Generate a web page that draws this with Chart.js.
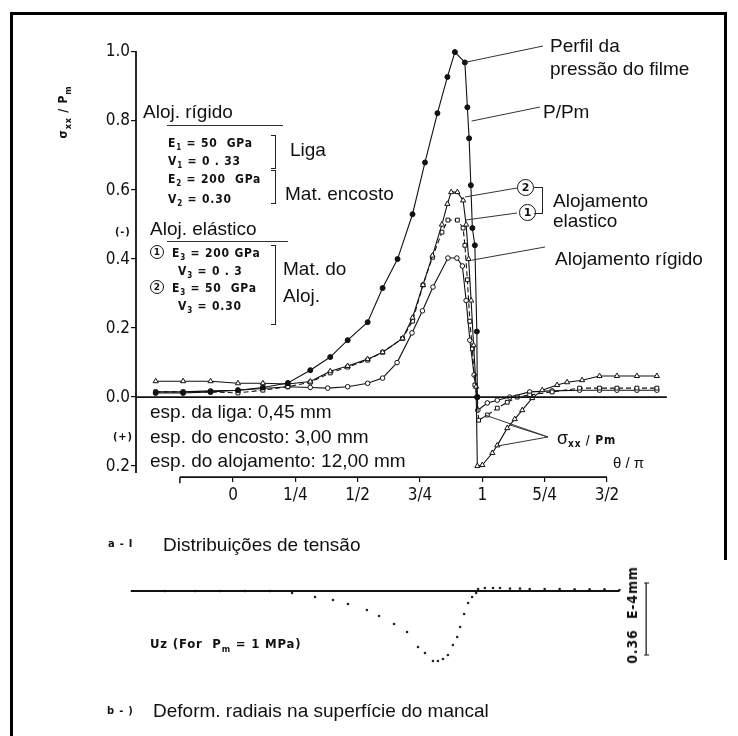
<!DOCTYPE html>
<html>
<head>
<meta charset="utf-8">
<script src="https://cdn.jsdelivr.net/npm/chart.js@4.4.1/dist/chart.umd.min.js"></script>
<style>
  body { margin: 0; background: #fff; }
  #wrap { position: relative; width: 738px; height: 736px; overflow: hidden; background: #fff;
          font-family: "Liberation Sans", Arial, sans-serif; color: #111; }
  #c { position: absolute; left: 0; top: 0; }
  .t { position: absolute; white-space: nowrap; line-height: 1; }
  .s { font-family: "DejaVu Sans Condensed", "DejaVu Sans", sans-serif; font-weight: bold; letter-spacing: 0.8px; }
  .br { position: absolute; border: 1px solid #222; border-left: none; }
  .rule { position: absolute; height: 0; border-top: 1px solid #333; }
  .circ { position: absolute; border: 1px solid #111; border-radius: 50%; text-align: center;
          font-family: "DejaVu Sans", sans-serif; font-weight: bold; background: #fff; }
  .rot { position: absolute; white-space: nowrap; line-height: 1; transform: translate(-50%, -50%) rotate(-90deg); }
  #frame { position: absolute; left: 10px; top: 12px; width: 714px; height: 760px;
           border-left: 3px solid #000; border-top: 3px solid #000; }
  #frameR { position: absolute; left: 724px; top: 12px; width: 3px; height: 548px; background: #000; }
</style>
</head>
<body>
<div id="wrap">
  <div id="frame"></div>
  <div id="frameR"></div>
  <canvas id="c" width="738" height="736"></canvas>
</div>
<script>
// theta / pi positions and sigma_xx / Pm values
const thetaP   = [-0.31, -0.2, -0.09, 0.02, 0.12, 0.22, 0.31, 0.39, 0.46, 0.54, 0.60, 0.66, 0.72, 0.77, 0.82, 0.86, 0.89, 0.93, 0.94, 0.947, 0.954, 0.96, 0.97, 0.978, 0.98];
const pressure = [0.012, 0.012, 0.015, 0.02, 0.028, 0.041, 0.078, 0.116, 0.165, 0.217, 0.316, 0.40, 0.53, 0.68, 0.823, 0.928, 1.0, 0.97, 0.84, 0.75, 0.614, 0.49, 0.44, 0.19, 0.0];

// housing 1 (E3 = 200 GPa), squares
const theta1 = [-0.31, -0.2, -0.09, 0.02, 0.12, 0.22, 0.31, 0.39, 0.46, 0.54, 0.60, 0.68, 0.72, 0.762, 0.80, 0.838, 0.862, 0.90, 0.923, 0.93, 0.94, 0.95, 0.96, 0.97, 0.98, 0.985, 1.02, 1.06, 1.10, 1.14, 1.19, 1.28, 1.39, 1.47, 1.54, 1.62, 1.70];
const sigma1 = [0.015, 0.015, 0.015, 0.012, 0.02, 0.03, 0.043, 0.07, 0.087, 0.107, 0.13, 0.17, 0.22, 0.325, 0.405, 0.478, 0.513, 0.513, 0.49, 0.44, 0.34, 0.22, 0.14, 0.035, 0.0, -0.067, -0.052, -0.032, -0.015, 0.0, 0.006, 0.015, 0.026, 0.026, 0.026, 0.026, 0.026];

// housing 2 (E3 = 50 GPa), triangles
const theta2 = [-0.31, -0.2, -0.09, 0.02, 0.12, 0.22, 0.31, 0.39, 0.46, 0.54, 0.60, 0.68, 0.72, 0.762, 0.80, 0.838, 0.86, 0.875, 0.90, 0.923, 0.935, 0.945, 0.955, 0.965, 0.975, 0.98, 1.0, 1.04, 1.06, 1.10, 1.13, 1.16, 1.20, 1.24, 1.30, 1.34, 1.40, 1.47, 1.54, 1.62, 1.70];
const sigma2 = [0.046, 0.046, 0.046, 0.04, 0.04, 0.038, 0.045, 0.075, 0.09, 0.11, 0.13, 0.17, 0.23, 0.325, 0.41, 0.50, 0.56, 0.594, 0.594, 0.57, 0.50, 0.40, 0.28, 0.15, 0.03, -0.2, -0.197, -0.162, -0.14, -0.09, -0.064, -0.038, -0.003, 0.02, 0.035, 0.043, 0.049, 0.061, 0.061, 0.061, 0.061];

// rigid housing, small circles
const thetaR = [-0.31, -0.2, -0.09, 0.02, 0.12, 0.22, 0.31, 0.38, 0.46, 0.54, 0.60, 0.658, 0.718, 0.76, 0.802, 0.862, 0.898, 0.92, 0.935, 0.95, 0.967, 0.978, 0.982, 1.02, 1.06, 1.11, 1.19, 1.28, 1.39, 1.47, 1.54, 1.62, 1.70];
const sigmaR = [0.015, 0.015, 0.018, 0.02, 0.025, 0.03, 0.028, 0.026, 0.03, 0.04, 0.055, 0.10, 0.186, 0.25, 0.319, 0.403, 0.403, 0.38, 0.28, 0.165, 0.064, 0.0, -0.038, -0.017, -0.009, 0.0, 0.015, 0.018, 0.02, 0.02, 0.02, 0.02, 0.02];

// radial deformation Uz, units of 1E-4 mm
const thetaU = [-0.273, -0.152, -0.052, 0.048, 0.148, 0.237, 0.329, 0.401, 0.461, 0.537, 0.586, 0.646, 0.698, 0.742, 0.770, 0.802, 0.822, 0.842, 0.862, 0.882, 0.899, 0.911, 0.927, 0.943, 0.959, 0.975, 0.983, 1.01, 1.043, 1.071, 1.111, 1.151, 1.19, 1.25, 1.31, 1.37, 1.43, 1.49, 1.55];
const uz     = [0, 0, 0, 0, 0, -0.01, -0.03, -0.045, -0.065, -0.095, -0.125, -0.165, -0.205, -0.28, -0.31, -0.35, -0.35, -0.34, -0.32, -0.27, -0.23, -0.18, -0.115, -0.06, -0.03, -0.01, 0.01, 0.015, 0.015, 0.015, 0.012, 0.012, 0.01, 0.01, 0.01, 0.008, 0.008, 0.008, 0.005];

const thetaTicks  = [0, 0.25, 0.5, 0.75, 1, 1.25, 1.5];
const thetaLabels = ['0', '1/4', '1/2', '3/4', '1', '5/4', '3/2'];
const stressTicks  = [-0.2, 0, 0.2, 0.4, 0.6, 0.8, 1.0];
const stressLabels = ['0.2', '0.0', '0.2', '0.4', '0.6', '0.8', '1.0'];

const thetaAxisAt = -0.232;   // where the theta/pi axis sits on the stress scale
const thetaAxisStart = -0.213;
const zeroLineEnd = 1.74;
const uzLineStart = -0.41, uzLineEnd = 1.55;
const uzBarAt = 1.657, uzBar = 0.36;

const pts = (xs, ys) => xs.map((x, i) => ({ x, y: ys[i] }));

const tickFont = { family: '"Liberation Sans Narrow", "DejaVu Sans Condensed", sans-serif', size: 17 };

const axesPlugin = {
  id: 'axes',
  afterDatasetsDraw(chart) {
    const { ctx, scales } = chart;
    const X = v => scales.x.getPixelForValue(v);
    const Y = v => scales.y.getPixelForValue(v);
    const U = v => scales.yu.getPixelForValue(v);
    const seg = (x1, y1, x2, y2, w) => {
      ctx.lineWidth = w; ctx.beginPath(); ctx.moveTo(x1, y1); ctx.lineTo(x2, y2); ctx.stroke();
    };
    ctx.save();
    ctx.strokeStyle = '#111';
    const left = scales.x.left;
    seg(left, Y(1.0) - 1, left, Y(-0.22), 1.8);
    seg(left, Y(0), X(zeroLineEnd), Y(0), 1.6);
    seg(X(thetaAxisStart), Y(thetaAxisAt), X(1.5), Y(thetaAxisAt), 1.8);
    seg(X(thetaAxisStart), Y(thetaAxisAt), X(thetaAxisStart), Y(thetaAxisAt) + 6, 1.5);
    seg(X(uzLineStart), U(0), X(uzLineEnd), U(0), 2);
    // scale bar of the deformation plot
    const top = U(0.04), bot = U(0.04 - uzBar);
    seg(X(uzBarAt), top, X(uzBarAt), bot, 1.2);
    seg(X(uzBarAt) - 2, top, X(uzBarAt) + 3, top, 1);
    seg(X(uzBarAt) - 2, bot, X(uzBarAt) + 3, bot, 1);

    // leader lines from labels to the curves
    ctx.strokeStyle = '#333';
    const leaders = [
      [543, 46, 0.93, 0.97], [540, 107, 0.957, 0.80], [517, 188, 0.931, 0.58],
      [517, 213, 0.931, 0.513], [545, 247, 0.959, 0.397],
      [548, 437, 1.011, -0.052], [548, 437, 1.111, -0.081], [548, 437, 1.059, -0.142]
    ];
    leaders.forEach(([px, py, tx, ty]) => seg(px, py, X(tx), Y(ty), 1));
    ctx.restore();
  }
};

const line = (label, xs, ys, extra) => Object.assign({
  label, data: pts(xs, ys), borderColor: '#111', borderWidth: 1.1,
  pointBorderColor: '#111', pointBackgroundColor: '#fff', pointBorderWidth: 1,
  pointRadius: 2.6, yAxisID: 'y', tension: 0
}, extra);

new Chart(document.getElementById('c'), {
  type: 'line',
  data: {
    datasets: [
      line('P/Pm', thetaP, pressure, { pointStyle: 'circle', pointRadius: 2.5, pointBackgroundColor: '#111' }),
      line('Alojamento elástico 2', theta2, sigma2, { pointStyle: 'triangle', pointRadius: 3 }),
      line('Alojamento elástico 1', theta1, sigma1, { pointStyle: 'rect', pointRadius: 2.7, borderDash: [5, 3] }),
      line('Alojamento rígido', thetaR, sigmaR, { pointStyle: 'circle', pointRadius: 2.3 }),
      { label: 'Uz', data: pts(thetaU, uz), showLine: false, yAxisID: 'yu',
        pointRadius: 1.3, pointBackgroundColor: '#222', pointBorderWidth: 0 }
    ]
  },
  options: {
    responsive: false,
    animation: false,
    layout: { padding: { left: 76, right: 38, top: 40, bottom: 46 } },
    plugins: { legend: { display: false }, tooltip: { enabled: false } },
    scales: {
      x: {
        type: 'linear', min: -0.389, max: 1.873,
        position: { y: thetaAxisAt },
        afterBuildTicks: s => { s.ticks = thetaTicks.map(value => ({ value })); },
        ticks: { callback: (v, i) => thetaLabels[i], color: '#111', font: tickFont, padding: 3, maxRotation: 0 },
        grid: { drawOnChartArea: false, drawTicks: true, tickLength: 5, color: '#111', lineWidth: 1.2 },
        border: { display: false }
      },
      y: {
        type: 'linear', min: -0.849, max: 1.035,
        afterFit: s => { s.width = 60; },
        afterBuildTicks: s => { s.ticks = stressTicks.map(value => ({ value })); },
        ticks: { callback: (v, i) => stressLabels[i], color: '#111', font: tickFont, padding: 1 },
        grid: { drawOnChartArea: false, drawTicks: true, tickLength: 5, color: '#111', lineWidth: 1.2 },
        border: { display: false }
      },
      yu: { type: 'linear', min: -0.495, max: 2.755, display: false }
    }
  },
  plugins: [axesPlugin]
});

// annotation texts
const wrap = document.getElementById('wrap');
function label(html, left, baseline, size, cls) {
  const d = document.createElement('div');
  d.className = 't' + (cls ? ' ' + cls : '');
  d.style.left = left + 'px';
  d.style.top = (baseline - 0.846 * size) + 'px';
  d.style.fontSize = size + 'px';
  d.innerHTML = html;
  wrap.appendChild(d);
}
function box(cls, left, top, w, h, html, size) {
  const d = document.createElement('div');
  d.className = cls;
  d.style.left = left + 'px'; d.style.top = top + 'px';
  if (w != null) d.style.width = w + 'px';
  if (h != null) d.style.height = h + 'px';
  if (html) { d.innerHTML = html; d.style.fontSize = size + 'px'; d.style.lineHeight = h + 'px'; }
  wrap.appendChild(d);
}
function rot(html, cx, cy, size, cls) {
  const d = document.createElement('div');
  d.className = 'rot' + (cls ? ' ' + cls : '');
  d.style.left = cx + 'px'; d.style.top = cy + 'px'; d.style.fontSize = size + 'px';
  d.innerHTML = html;
  wrap.appendChild(d);
}

rot('σ<sub style="font-size:9px">xx</sub> / P<sub style="font-size:9px">m</sub>', 65, 112, 12, 's');

label('Aloj. rígido', 143, 118, 19);
box('rule', 167, 125, 116, null);
label('E<sub style="font-size:8px">1</sub> = 50&nbsp;&nbsp;GPa', 168, 147, 12, 's');
label('V<sub style="font-size:8px">1</sub> = 0 . 33', 168, 165, 12, 's');
label('E<sub style="font-size:8px">2</sub> = 200&nbsp;&nbsp;GPa', 168, 183, 12, 's');
label('V<sub style="font-size:8px">2</sub> = 0.30', 168, 203, 12, 's');
box('br', 271, 135, 4, 32);
box('br', 271, 170, 4, 32);
label('Liga', 290, 156, 19);
label('Mat. encosto', 285, 200, 19);

label('(-)', 115, 235, 11, 's');
label('Aloj. elástico', 150, 235, 19);
box('rule', 167, 241, 121, null);
box('circ', 150, 245, 12, 12, '1', 9);
label('E<sub style="font-size:8px">3</sub> = 200 GPa', 172, 257, 12, 's');
label('V<sub style="font-size:8px">3</sub> = 0 . 3', 178, 275, 12, 's');
box('circ', 150, 280, 12, 12, '2', 9);
label('E<sub style="font-size:8px">3</sub> = 50&nbsp;&nbsp;GPa', 172, 292, 12, 's');
label('V<sub style="font-size:8px">3</sub> = 0.30', 178, 310, 12, 's');
box('br', 271, 245, 4, 78);
label('Mat. do', 283, 275, 19);
label('Aloj.', 283, 302, 19);

label('esp. da liga: 0,45 mm', 150, 418, 19);
label('esp. do encosto: 3,00 mm', 150, 443, 19);
label('esp. do alojamento: 12,00 mm', 150, 467, 19);
label('(+)', 113, 440, 11, 's');

label('Perfil da', 550, 52, 19);
label('pressão do filme', 550, 75, 19);
label('P/Pm', 543, 118, 19);
box('circ', 517, 179, 15, 15, '2', 11);
box('circ', 519, 204, 15, 15, '1', 11);
box('br', 534, 187, 8, 25);
label('Alojamento', 553, 207, 19);
label('elastico', 553, 227, 19);
label('Alojamento rígido', 555, 265, 19);

label('σ<span class="s" style="font-size:12px"><sub>xx</sub> / Pm</span>', 557, 444, 18);
label('θ / π', 613, 468, 15);

label('a - I', 108, 547, 11, 's');
label('Distribuições de tensão', 163, 551, 19);
label('Uz (For&nbsp;&nbsp;P<sub style="font-size:9px">m</sub> = 1 MPa)', 150, 648, 13, 's');
rot('0.36&nbsp;&nbsp;E-4mm', 632, 615, 14, 's');
label('b - )', 107, 714, 11, 's');
label('Deform. radiais na superfície do mancal', 153, 717, 19);
</script>
</body>
</html>
